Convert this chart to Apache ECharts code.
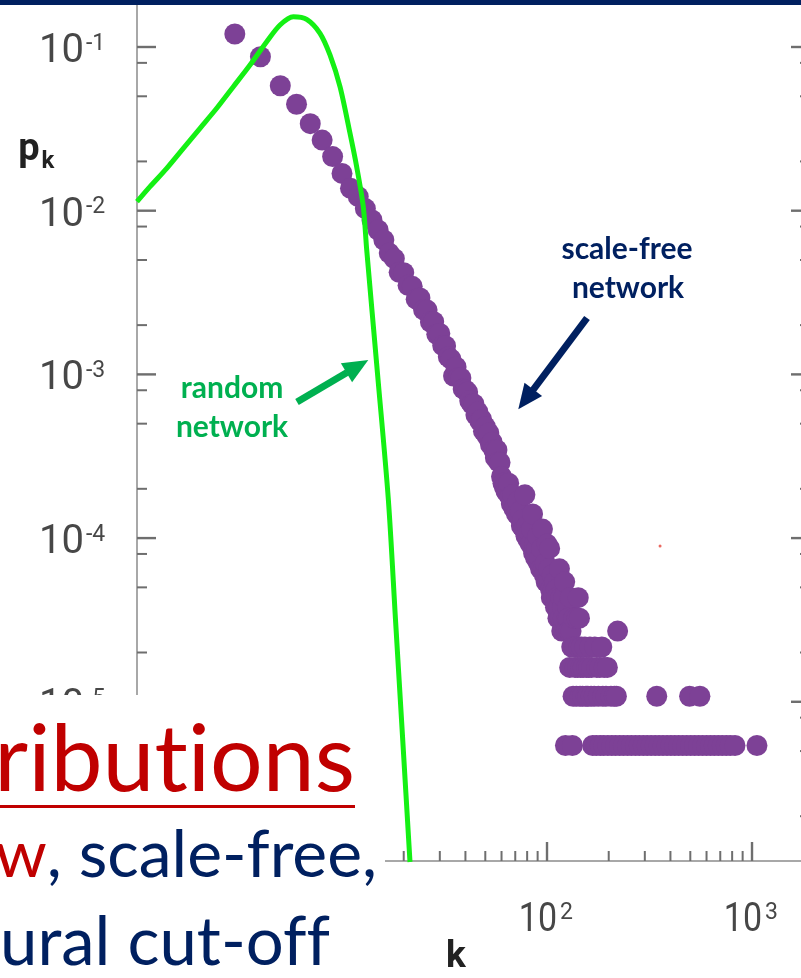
<!DOCTYPE html>
<html>
<head>
<meta charset="utf-8">
<script src="https://cdn.jsdelivr.net/npm/echarts@6/dist/echarts.min.js"></script>
<style>
  html, body { margin: 0; padding: 0; overflow: hidden; background: #fff; width: 801px; height: 978px; }
  #chart { position: absolute; left: 0; top: 0; width: 830px; height: 978px; }
</style>
</head>
<body>
<div id="chart"></div>
<script>
// Axis ranges (log-log degree distribution)
const K_MIN = 1, K_MAX = 1918;
const P_MIN = 1.065e-6, P_MAX = 0.1937;

// Tick positions and their exponent labels
const kMajorTicks = [1, 10, 100, 1000];
const kTickExponents = ['0', '1', '2', '3'];
const kMinorTicks = [2, 3, 4, 5, 6, 7, 8, 9, 20, 30, 40, 50, 60, 70, 80, 90,
                     200, 300, 400, 500, 600, 700, 800, 900];
const pMajorTicks = [1e-5, 1e-4, 1e-3, 1e-2, 1e-1];
const pTickExponents = ['-5', '-4', '-3', '-2', '-1'];
const pMinorTicks = [2e-6, 5e-6, 8e-6, 2e-5, 5e-5, 8e-5, 2e-4, 5e-4, 8e-4,
                     2e-3, 5e-3, 8e-3, 2e-2, 5e-2, 8e-2];

// Poisson degree distribution of a random network: [k, p_k]
const randomNetworkPk = [
  [1.00, 0.01135], [1.157, 0.01402], [1.396, 0.01815], [1.682, 0.02405],
  [2.029, 0.03187], [2.448, 0.04222], [2.950, 0.05719], [3.558, 0.07762],
  [4.292, 0.1077], [4.985, 0.1363], [5.787, 0.1531], [6.725, 0.1476],
  [7.811, 0.1213], [8.737, 0.0894], [9.777, 0.0572], [10.94, 0.0297],
  [11.79, 0.01857], [12.70, 0.01058], [13.20, 0.00575], [14.92, 9.92e-4],
  [16.83, 1.717e-4], [18.24, 3.16e-5], [19.78, 5.84e-6], [21.46, 1.05e-6]
];

// Measured degree distribution of a scale-free network: [k, p_k]
const scaleFreeHead = [
  [3, 0.120], [4, 0.0872], [5, 0.0580], [6, 0.0447], [7, 0.0340], [8, 0.0270],
  [9, 0.0214], [10, 0.0169], [11, 0.0137], [12, 0.0122], [13, 0.0103],
  [14, 0.00877], [15, 0.00762], [16, 0.00662], [17, 0.00551], [18, 0.00510],
  [19, 0.00420], [20, 0.00418], [21, 0.00350], [22, 0.00345], [23, 0.00288],
  [24, 0.00293], [25, 0.00248], [26, 0.00247], [27, 0.00209], [28, 0.00210],
  [29, 0.00176], [30, 0.00178], [31, 0.00150], [32, 0.00149], [33, 0.00128],
  [34, 0.00124], [35, 0.000978], [36, 0.00111], [37, 0.000955], [38, 0.000950],
  [39, 0.000815], [40, 0.000803], [41, 0.000780], [42, 0.000690], [43, 0.000659],
  [44, 0.000660], [45, 0.000565], [46, 0.000590], [47, 0.000519], [48, 0.000530],
  [49, 0.000450], [50, 0.000480], [51, 0.000420], [52, 0.000439], [53, 0.000372],
  [54, 0.000385], [55, 0.000345], [56, 0.000310], [57, 0.000345], [58, 0.000292],
  [59, 0.000290]
];
const scaleFreeBody = [
  [60, 2.378e-4], [61, 2.162e-4], [62, 2.054e-4], [63, 1.946e-4], [64, 1.892e-4],
  [65, 2.162e-4], [66, 1.784e-4], [67, 1.622e-4], [68, 1.838e-4], [69, 1.514e-4],
  [70, 1.568e-4], [71, 1.405e-4], [72, 1.676e-4], [73, 1.351e-4], [74, 1.459e-4],
  [75, 1.189e-4], [76, 1.297e-4], [77, 1.135e-4], [78, 1.838e-4], [79, 1.027e-4],
  [80, 1.189e-4], [81, 9.730e-5], [82, 1.081e-4], [83, 9.189e-5], [84, 1.135e-4],
  [85, 1.405e-4], [86, 8.108e-5], [87, 9.189e-5], [88, 7.568e-5], [89, 8.649e-5],
  [90, 1.027e-4], [91, 7.027e-5], [92, 7.568e-5], [93, 6.486e-5], [94, 8.649e-5],
  [95, 1.135e-4], [96, 6.486e-5], [97, 5.946e-5], [98, 7.027e-5], [99, 5.405e-5],
  [100, 9.189e-5], [101, 5.405e-5], [102, 6.486e-5], [103, 8.649e-5], [104, 4.865e-5],
  [105, 4.324e-5], [106, 5.946e-5], [107, 4.865e-5], [108, 4.324e-5], [109, 5.405e-5],
  [110, 3.784e-5], [111, 4.865e-5], [112, 4.324e-5], [113, 3.243e-5], [114, 3.784e-5],
  [115, 6.486e-5], [116, 3.243e-5], [117, 4.324e-5], [118, 2.703e-5], [119, 3.784e-5],
  [120, 3.243e-5], [121, 4.324e-5], [122, 5.405e-5], [124, 2.703e-5], [125, 3.243e-5],
  [126, 3.784e-5], [127, 3.243e-5], [128, 2.703e-5], [130, 4.324e-5], [131, 2.703e-5],
  [135, 3.243e-5], [140, 3.243e-5], [142, 4.324e-5], [144, 3.243e-5], [221, 2.703e-5]
];
const scaleFreeTail = [
  // four nodes
  [132, 2.162e-5], [136, 2.162e-5], [143, 2.162e-5], [147, 2.162e-5],
  [153, 2.162e-5], [162, 2.162e-5], [171, 2.162e-5], [185, 2.162e-5],
  // three nodes
  [129, 1.622e-5], [137, 1.622e-5], [141, 1.622e-5], [146, 1.622e-5],
  [150, 1.622e-5], [156, 1.622e-5], [160, 1.622e-5], [165, 1.622e-5],
  [175, 1.622e-5], [181, 1.622e-5], [190, 1.622e-5], [197, 1.622e-5],
  // two nodes
  [134, 1.081e-5], [139, 1.081e-5], [145, 1.081e-5], [149, 1.081e-5],
  [155, 1.081e-5], [158, 1.081e-5], [164, 1.081e-5], [170, 1.081e-5],
  [178, 1.081e-5], [187, 1.081e-5], [194, 1.081e-5], [205, 1.081e-5],
  [213, 1.081e-5], [218, 1.081e-5], [343, 1.081e-5], [496, 1.081e-5],
  [557, 1.081e-5],
  // single node
  [123, 5.405e-6], [133, 5.405e-6], [167, 5.405e-6], [174, 5.405e-6],
  [182, 5.405e-6], [189, 5.405e-6], [198, 5.405e-6], [207, 5.405e-6],
  [216, 5.405e-6], [226, 5.405e-6], [236, 5.405e-6], [247, 5.405e-6],
  [258, 5.405e-6], [270, 5.405e-6], [282, 5.405e-6], [295, 5.405e-6],
  [308, 5.405e-6], [322, 5.405e-6], [337, 5.405e-6], [352, 5.405e-6],
  [368, 5.405e-6], [385, 5.405e-6], [402, 5.405e-6], [420, 5.405e-6],
  [439, 5.405e-6], [459, 5.405e-6], [480, 5.405e-6], [502, 5.405e-6],
  [525, 5.405e-6], [549, 5.405e-6], [574, 5.405e-6], [600, 5.405e-6],
  [627, 5.405e-6], [655, 5.405e-6], [685, 5.405e-6], [716, 5.405e-6],
  [749, 5.405e-6], [783, 5.405e-6], [826, 5.405e-6], [1057, 5.405e-6]
];
const strayPoint = [[356, 8.95e-5]];

const AXIS_GREY = '#a8a8a8';
const TICK_GREY = '#6e6e6e';
const LABEL_GREY = '#474747';
const LABEL_FONT = 'Roboto, "DejaVu Sans", sans-serif';

// Tick marks drawn through the axis scales
function kTick(params, api) {
  const pt = api.coord([api.value(0), P_MIN]);
  const major = api.value(2) === 1;
  const len = major ? 19 : 10;
  return {
    type: 'line',
    shape: { x1: pt[0], y1: pt[1], x2: pt[0], y2: pt[1] - len },
    style: { stroke: TICK_GREY, lineWidth: major ? 2.4 : 2 }
  };
}
function pTick(params, api) {
  const side = api.value(3);
  const pt = api.coord([side > 0 ? K_MIN : K_MAX, api.value(1)]);
  const major = api.value(2) === 1;
  const len = major ? 19 : 10;
  return {
    type: 'line',
    shape: { x1: pt[0], y1: pt[1], x2: pt[0] + side * len, y2: pt[1] },
    style: { stroke: TICK_GREY, lineWidth: major ? 2.4 : 2 }
  };
}
function kLabel(params, api) {
  const pt = api.coord([api.value(0), P_MIN]);
  const exp = kTickExponents[api.value(2)];
  return {
    type: 'group',
    children: [
      { type: 'text', x: pt[0] + 10, y: pt[1] + 60, scaleX: 0.85,
        style: { text: '10', font: '40px ' + LABEL_FONT, fill: LABEL_GREY,
                 align: 'right', verticalAlign: 'middle' } },
      { type: 'text', x: pt[0] + 13, y: pt[1] + 52,
        style: { text: exp, font: '23px ' + LABEL_FONT, fill: LABEL_GREY,
                 align: 'left', verticalAlign: 'middle' } }
    ]
  };
}
function pLabel(params, api) {
  const pt = api.coord([K_MIN, api.value(1)]);
  const exp = pTickExponents[api.value(2)];
  return {
    type: 'group',
    children: [
      { type: 'text', x: pt[0] - 53, y: pt[1] + 5,
        style: { text: '10', font: '40px ' + LABEL_FONT, fill: LABEL_GREY,
                 align: 'right', verticalAlign: 'middle' } },
      { type: 'text', x: pt[0] - 51, y: pt[1] - 3,
        style: { text: exp, font: '23px ' + LABEL_FONT, fill: LABEL_GREY,
                 align: 'left', verticalAlign: 'middle' } }
    ]
  };
}

const kTickData = kMajorTicks.map(k => [k, P_MIN, 1])
  .concat(kMinorTicks.map(k => [k, P_MIN, 0]));
const pTickData = [];
[1, -1].forEach(side => {
  pMajorTicks.forEach(p => pTickData.push([K_MIN, p, 1, side]));
  pMinorTicks.forEach(p => pTickData.push([K_MIN, p, 0, side]));
});
const kLabelData = kMajorTicks.map((k, i) => [k, P_MIN, i]);
const pLabelData = pMajorTicks.map((p, i) => [K_MIN, p, i]);

const PURPLE = '#7d4196';
const SLIDE_FONT = 'Lato, sans-serif';
const chart = echarts.init(document.getElementById('chart'), null, { renderer: 'canvas' });

chart.setOption({
  animation: false,
  backgroundColor: '#ffffff',
  grid: {
    left: 137, top: 0, right: 20, bottom: 117,
    show: true, borderColor: AXIS_GREY, borderWidth: 2, backgroundColor: 'transparent'
  },
  xAxis: {
    type: 'log', logBase: 10, min: K_MIN, max: K_MAX,
    axisLine: { show: false }, axisTick: { show: false },
    axisLabel: { show: false }, splitLine: { show: false }
  },
  yAxis: {
    type: 'log', logBase: 10, min: P_MIN, max: P_MAX,
    axisLine: { show: false }, axisTick: { show: false },
    axisLabel: { show: false }, splitLine: { show: false }
  },
  series: [
    {
      name: 'scale-free network', type: 'scatter', z: 2, silent: true,
      symbol: 'circle', symbolSize: 21,
      itemStyle: { color: PURPLE, opacity: 1 },
      data: scaleFreeHead.concat(scaleFreeBody, scaleFreeTail)
    },
    {
      name: 'stray', type: 'scatter', z: 2, silent: true,
      symbolSize: 3, itemStyle: { color: '#e5433a' },
      data: strayPoint
    },
    {
      name: 'random network', type: 'line', z: 3, silent: true,
      smooth: 0.3, showSymbol: false, clip: true,
      lineStyle: { color: '#14f014', width: 5 },
      data: randomNetworkPk
    },
    { type: 'custom', z: 4, silent: true, renderItem: kTick, data: kTickData },
    { type: 'custom', z: 4, silent: true, renderItem: pTick, data: pTickData },
    { type: 'custom', z: 4, silent: true, renderItem: kLabel, data: kLabelData },
    { type: 'custom', z: 4, silent: true, renderItem: pLabel, data: pLabelData }
  ],
  graphic: [
    // axis titles
    { type: 'text', z: 50, x: 29, y: 150,
      style: { text: 'p', font: 'bold 38px Roboto, sans-serif', fill: '#222',
               align: 'center', verticalAlign: 'middle' } },
    { type: 'text', z: 50, x: 48, y: 162,
      style: { text: 'k', font: 'bold 24px Roboto, sans-serif', fill: '#222',
               align: 'center', verticalAlign: 'middle' } },
    { type: 'text', z: 50, x: 456, y: 958,
      style: { text: 'k', font: 'bold 37px Roboto, sans-serif', fill: '#222',
               align: 'center', verticalAlign: 'middle' } },

    // annotations
    { type: 'text', z: 50, x: 232, y: 388,
      style: { text: 'random', font: 'bold 30px ' + SLIDE_FONT, fill: '#00b050',
               align: 'center', verticalAlign: 'middle' } },
    { type: 'text', z: 50, x: 232, y: 427,
      style: { text: 'network', font: 'bold 30px ' + SLIDE_FONT, fill: '#00b050',
               align: 'center', verticalAlign: 'middle' } },
    { type: 'polyline', z: 50,
      shape: { points: [[297, 402], [347, 372.5]] },
      style: { stroke: '#00b050', lineWidth: 7, fill: null } },
    { type: 'polygon', z: 50,
      shape: { points: [[368.3, 360], [340.9, 363.2], [352.1, 382.2]] },
      style: { fill: '#00b050' } },

    { type: 'text', z: 50, x: 627, y: 249,
      style: { text: 'scale-free', font: 'bold 30px ' + SLIDE_FONT, fill: '#002060',
               align: 'center', verticalAlign: 'middle' } },
    { type: 'text', z: 50, x: 628, y: 288,
      style: { text: 'network', font: 'bold 30px ' + SLIDE_FONT, fill: '#002060',
               align: 'center', verticalAlign: 'middle' } },
    { type: 'polyline', z: 50,
      shape: { points: [[587, 318], [533, 390]] },
      style: { stroke: '#002060', lineWidth: 7, fill: null } },
    { type: 'polygon', z: 50,
      shape: { points: [[518.3, 409.3], [524.5, 382.7], [542.1, 395.9]] },
      style: { fill: '#002060' } },

    // slide text panel over the lower-left corner (ZWNJ keeps "t i" and "f f" unligated)
    { type: 'rect', z: 100, shape: { x: 0, y: 695, width: 385, height: 283 },
      style: { fill: '#ffffff' } },
    { type: 'text', z: 101, x: 355, y: 761,
      style: { text: 'ribut\u200Cions', font: '93px ' + SLIDE_FONT, fill: '#c00000',
               align: 'right', verticalAlign: 'middle' } },
    { type: 'rect', z: 101, shape: { x: 0, y: 805, width: 355, height: 3 },
      style: { fill: '#c00000' } },
    { type: 'text', z: 101, x: 377, y: 856,
      style: { text: '{r|w}{n|, scale-free,}', font: '66px ' + SLIDE_FONT,
               align: 'right', verticalAlign: 'middle',
               rich: { r: { fill: '#c00000', font: '66px ' + SLIDE_FONT },
                       n: { fill: '#002060', font: '66px ' + SLIDE_FONT } } } },
    { type: 'text', z: 101, x: 330, y: 943,
      style: { text: 'ural cut-of\u200Cf', font: '67px ' + SLIDE_FONT, fill: '#002060',
               align: 'right', verticalAlign: 'middle' } },

    // title bar edge
    { type: 'rect', z: 100, shape: { x: 0, y: 0, width: 830, height: 5 },
      style: { fill: '#002060' } }
  ]
});
</script>
</body>
</html>
